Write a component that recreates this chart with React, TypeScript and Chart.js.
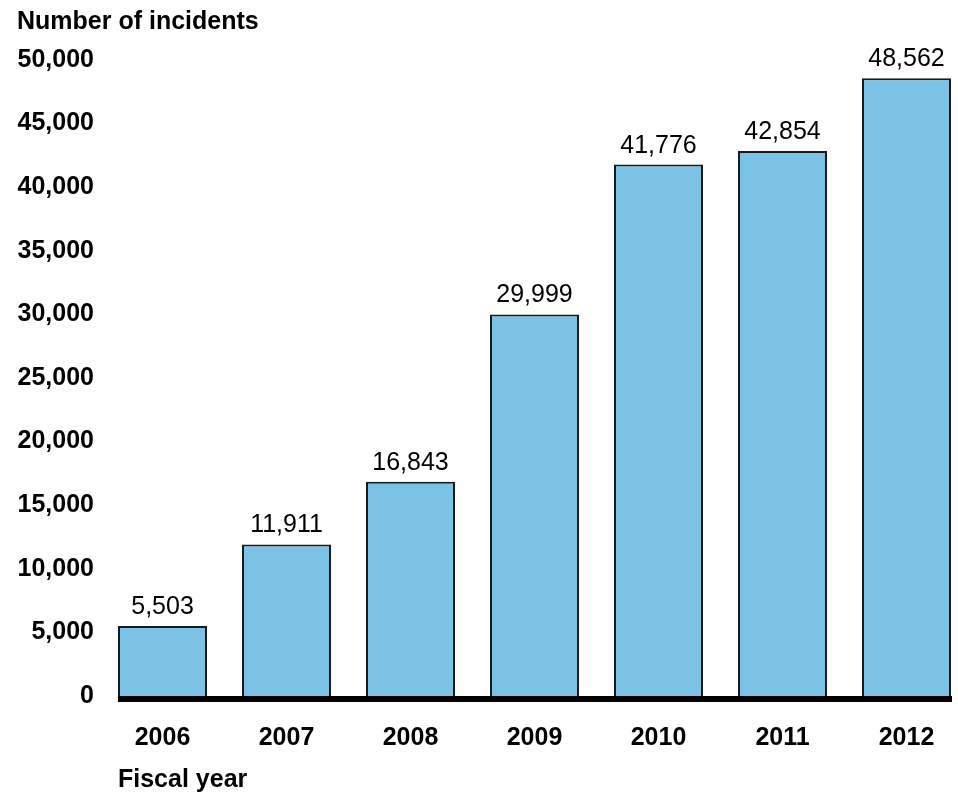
import { useEffect, useRef } from 'react';
import { Chart, registerables } from 'chart.js';

Chart.register(...registerables);

const YEARS = ['2006', '2007', '2008', '2009', '2010', '2011', '2012'];
const INCIDENTS = [5503, 11911, 16843, 29999, 41776, 42854, 48562];
const Y_MIN = 0;
const Y_MAX = 50000;
const Y_STEP = 5000;
const Y_TITLE = 'Number of incidents';
const X_TITLE = 'Fiscal year';

const FONT = '"Liberation Sans", Arial, Helvetica, sans-serif';
const BAR_FILL = '#7cc1e6';
const BAR_EDGE = '#1a1a1a';

const fmt = (v: number) => v.toLocaleString('en-US');

const valueLabels = {
  id: 'valueLabels',
  afterDatasetsDraw(chart: any) {
    const ctx = chart.ctx;
    const meta = chart.getDatasetMeta(0);
    ctx.save();
    ctx.font = `25px ${FONT}`;
    ctx.fillStyle = '#000';
    ctx.textAlign = 'center';
    ctx.textBaseline = 'alphabetic';
    meta.data.forEach((bar: any, i: number) => {
      ctx.fillText(fmt(INCIDENTS[i]), bar.x, bar.y - 12);
    });
    ctx.restore();
  },
};

const baseline = {
  id: 'baseline',
  afterDatasetsDraw(chart: any) {
    const { ctx, chartArea } = chart;
    ctx.save();
    ctx.fillStyle = '#000';
    ctx.fillRect(chartArea.left, chartArea.bottom, chartArea.right - chartArea.left + 1, 6);
    ctx.restore();
  },
};

export default function App() {
  const ref = useRef<HTMLCanvasElement | null>(null);

  useEffect(() => {
    if (!ref.current) return;
    const half = 0.3589;
    const chart = new Chart(ref.current, {
      type: 'bar',
      data: {
        datasets: [
          {
            data: INCIDENTS.map((v, i) => ({ x: i, y: v })),
            backgroundColor: BAR_FILL,
            borderColor: BAR_EDGE,
            borderWidth: 2,
            borderSkipped: 'start',
            barPercentage: 0.7177,
            categoryPercentage: 1,
          },
        ],
      },
      options: {
        animation: false,
        responsive: true,
        maintainAspectRatio: false,
        layout: { padding: { left: 17, right: 7, top: 0, bottom: 0 } },
        plugins: {
          legend: { display: false },
          tooltip: { enabled: false },
          title: {
            display: true,
            text: Y_TITLE,
            align: 'start',
            color: '#000',
            font: { family: FONT, size: 25, weight: 'bold', lineHeight: 1.2 },
            padding: { top: 7, bottom: 23 },
          },
        },
        scales: {
          x: {
            type: 'linear',
            offset: false,
            min: -half,
            max: YEARS.length - 1 + half,
            grid: { display: false, drawTicks: false, offset: false },
            border: { display: false },
            ticks: {
              stepSize: 1,
              includeBounds: false,
              autoSkip: false,
              maxRotation: 0,
              padding: 27,
              color: '#000',
              font: { family: FONT, size: 25, weight: 'bold', lineHeight: 1.2 },
              callback: (v: any) => {
                const i = Number(v);
                return Number.isInteger(i) && YEARS[i] ? YEARS[i] : '';
              },
            },
            title: {
              display: true,
              text: X_TITLE,
              align: 'start',
              color: '#000',
              font: { family: FONT, size: 25, weight: 'bold', lineHeight: 1.1 },
              padding: { top: 0, bottom: 0 },
            },
            afterFit: (s: any) => {
              s.height = 98;
              s.paddingLeft = 0;
              s.paddingRight = 0;
            },
          },
          y: {
            min: Y_MIN,
            max: Y_MAX,
            grid: { display: false, drawTicks: false },
            border: { display: false },
            ticks: {
              stepSize: Y_STEP,
              padding: 24,
              color: '#000',
              font: { family: FONT, size: 25, weight: 'bold' },
              callback: (v: any) => fmt(Number(v)),
            },
            afterFit: (s: any) => {
              s.width = 101;
              s.paddingTop = 0;
              s.paddingBottom = 0;
            },
          },
        },
      },
      plugins: [valueLabels, baseline],
    });
    return () => chart.destroy();
  }, []);

  return (
    <div style={{ position: 'absolute', left: 0, top: 0, width: 958, height: 794, background: '#fff' }}>
      <canvas ref={ref} />
    </div>
  );
}
